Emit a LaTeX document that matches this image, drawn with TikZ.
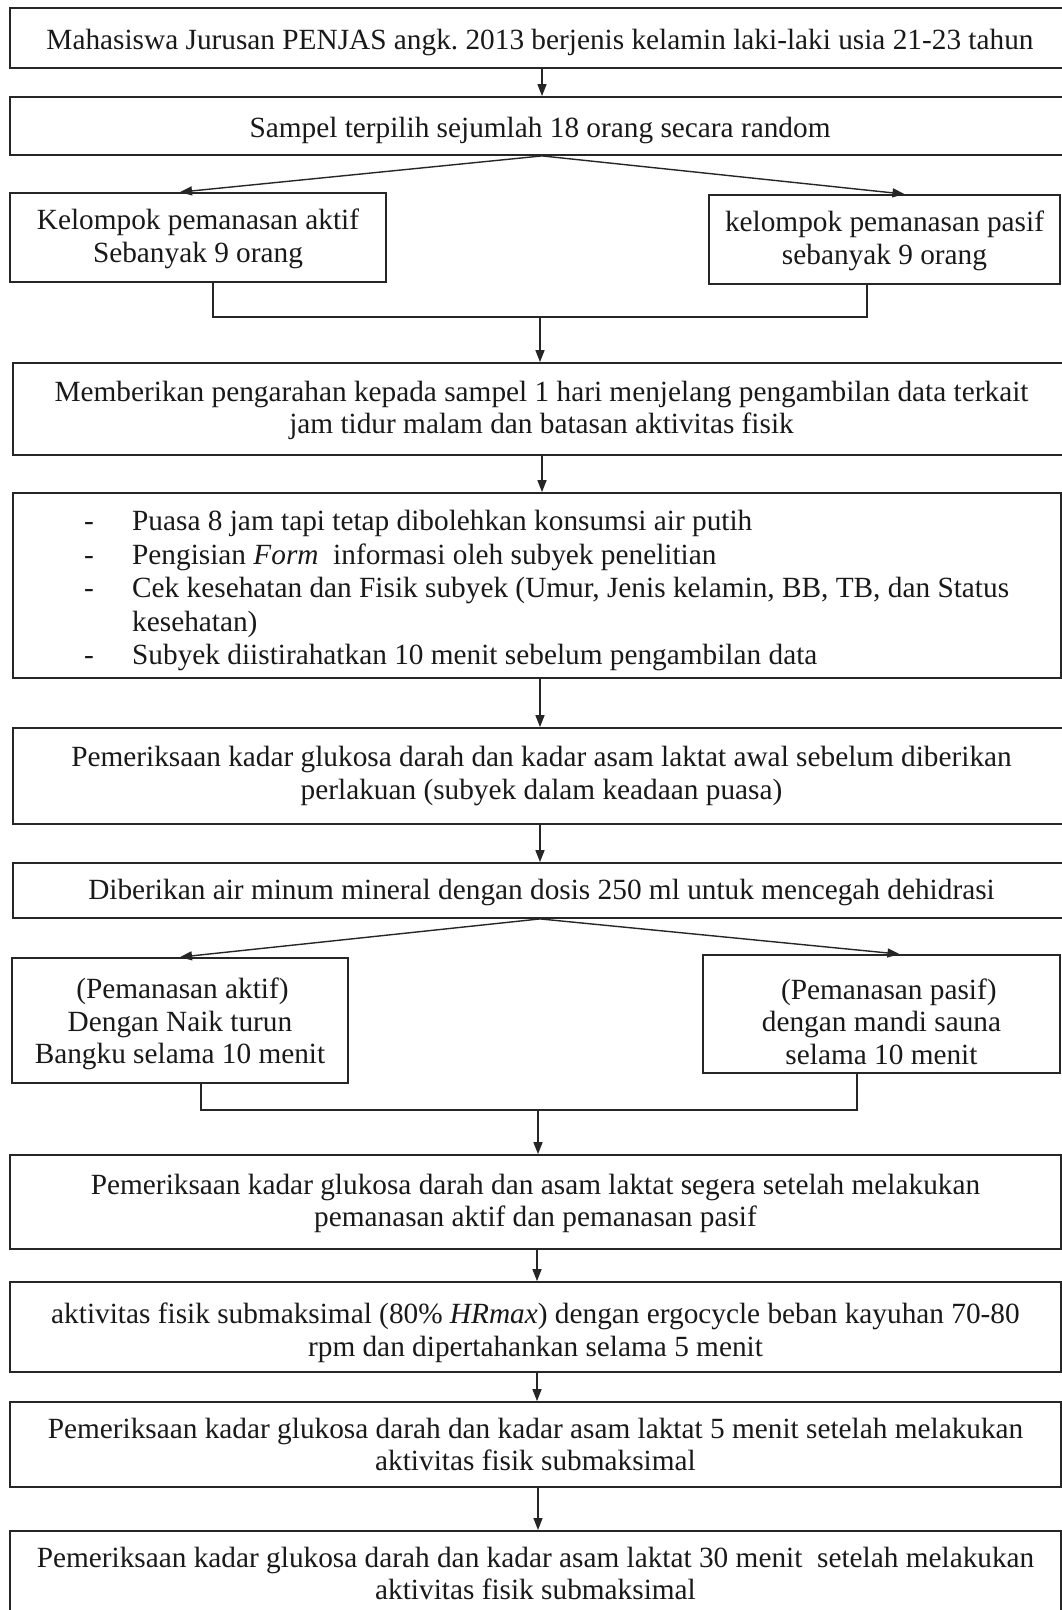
\documentclass[tikz,border=0pt]{standalone}
\usepackage{fontspec}
\setmainfont{Liberation Serif}
\usetikzlibrary{arrows.meta}
\newcommand\myhs[1]{\rule{0pt}{#1}}
\newcommand\myds[1]{\rule[-#1]{0pt}{#1}}
\begin{document}
\frenchspacing
\begin{tikzpicture}[x=1pt,y=-1pt,
  box/.style={draw=black!85,line width=1.8pt,inner sep=0pt,align=center,
    font=\fontsize{29.3}{32.5}\selectfont,text=black!90},
  arr/.style={line width=1.4pt,draw=black!85,-{Triangle[length=12pt,width=9pt]}},
  ln/.style={line width=1.4pt,draw=black!85}]
\useasboundingbox (0,0) rectangle (1062,1610);
\clip (0,0) rectangle (1062,1610);
\fill[white] (0,0) rectangle (1062,1610);
% main boxes
\node[box,minimum width=1060pt,minimum height=60pt] (b1) at (540,38)
  {\myhs{29pt}Mahasiswa Jurusan PENJAS angk. 2013 berjenis kelamin laki-laki usia 21-23 tahun};
\node[box,minimum width=1060pt,minimum height=58pt] (b2) at (540,126)
  {\myhs{30pt}Sampel terpilih sejumlah 18 orang secara random};
\node[box,minimum width=376pt,minimum height=89pt] (a1) at (198,237.5)
  {\myhs{23pt}Kelompok pemanasan aktif\\Sebanyak 9 orang};
\node[box,minimum width=351pt,minimum height=89pt] (p1) at (884.5,239.5)
  {\myhs{23pt}kelompok pemanasan pasif\\sebanyak 9 orang};
\coordinate (l1) at (213,317);
\coordinate (r1) at (867,317);
\coordinate (j1) at (540,317);
\node[box,minimum width=1057pt,minimum height=92pt] (b3) at (541.5,409)
  {\myhs{23pt}Memberikan pengarahan kepada sampel 1 hari menjelang pengambilan data terkait\\jam tidur malam dan batasan aktivitas fisik};
\node[box,minimum width=1048pt,minimum height=185pt] (b4) at (537,585.5) {};
\node[anchor=north west,inner sep=0pt,align=left,font=\fontsize{29.3}{33.5}\selectfont,text=black!90] (list) at (84,507)
  {\begin{tabular}{@{}p{48pt}@{}l@{}}
   - & Puasa 8 jam tapi tetap dibolehkan konsumsi air putih\\
   - & Pengisian \textit{Form}\ \ informasi oleh subyek penelitian\\
   - & Cek kesehatan dan Fisik subyek (Umur, Jenis kelamin, BB, TB, dan Status\\
     & kesehatan)\\
   - & Subyek diistirahatkan 10 menit sebelum pengambilan data
   \end{tabular}};
\node[box,minimum width=1057pt,minimum height=96pt] (b5) at (541.5,776)
  {Pemeriksaan kadar glukosa darah dan kadar asam laktat awal sebelum diberikan\\perlakuan (subyek dalam keadaan puasa)};
\node[box,minimum width=1057pt,minimum height=55pt] (b6) at (541.5,890.5)
  {\myhs{24pt}Diberikan air minum mineral dengan dosis 250 ml untuk mencegah dehidrasi};
\node[box,minimum width=336pt,minimum height=125pt] (a2) at (180,1020.5)
  {\myhs{28pt}\,(Pemanasan aktif)\\Dengan Naik turun\\Bangku selama 10 menit};
\node[box,minimum width=357pt,minimum height=118pt] (p2) at (881.5,1014)
  {\myhs{36pt}\ \ (Pemanasan pasif)\\dengan mandi sauna\\selama 10 menit};
\coordinate (l2) at (201,1110);
\coordinate (r2) at (857,1110);
\coordinate (j2) at (538,1110);
\node[box,minimum width=1051pt,minimum height=94pt] (b7) at (535.5,1202)
  {\myhs{23pt}Pemeriksaan kadar glukosa darah dan asam laktat segera setelah melakukan\\pemanasan aktif dan pemanasan pasif};
\node[box,minimum width=1051pt,minimum height=90pt] (b8) at (535.5,1327)
  {\myhs{32pt}aktivitas fisik submaksimal (80\% \textit{HRmax}) dengan ergocycle beban kayuhan 70-80\\rpm dan dipertahankan selama 5 menit};
\node[box,minimum width=1051pt,minimum height=85pt] (b9) at (535.5,1444.5)
  {Pemeriksaan kadar glukosa darah dan kadar asam laktat 5 menit setelah melakukan\\aktivitas fisik submaksimal};
\node[box,minimum width=1051pt,minimum height=95pt,anchor=north] (b10) at (535.5,1530)
  {Pemeriksaan kadar glukosa darah dan kadar asam laktat 30 menit\ \ setelah melakukan\\aktivitas fisik submaksimal\myds{10pt}};
% connectors
\draw[arr] (b1.south -| 542,0) -- (b2.north -| 542,0);
\draw[arr] (b2.south -| 542,0) -- ([xshift=-18pt]a1.north);
\draw[arr] (b2.south -| 542,0) -- ([xshift=20pt]p1.north);
\draw[ln] (a1.south -| l1) -- (l1) -- (r1) -- (p1.south -| r1);
\draw[arr] (j1) -- (b3.north -| j1);
\draw[arr] (b3.south -| 542,0) -- (b4.north -| 542,0);
\draw[arr] (b4.south -| 540,0) -- (b5.north -| 540,0);
\draw[arr] (b5.south -| 540,0) -- (b6.north -| 540,0);
\draw[arr] (b6.south -| 540,0) -- (a2.north);
\draw[arr] (b6.south -| 540,0) -- ([xshift=18pt]p2.north);
\draw[ln] (a2.south -| l2) -- (l2) -- (r2) -- (p2.south -| r2);
\draw[arr] (j2) -- (b7.north -| j2);
\draw[arr] (b7.south -| 537,0) -- (b8.north -| 537,0);
\draw[arr] (b8.south -| 537,0) -- (b9.north -| 537,0);
\draw[arr] (b9.south -| 538,0) -- (b10.north -| 538,0);
\end{tikzpicture}
\end{document}
